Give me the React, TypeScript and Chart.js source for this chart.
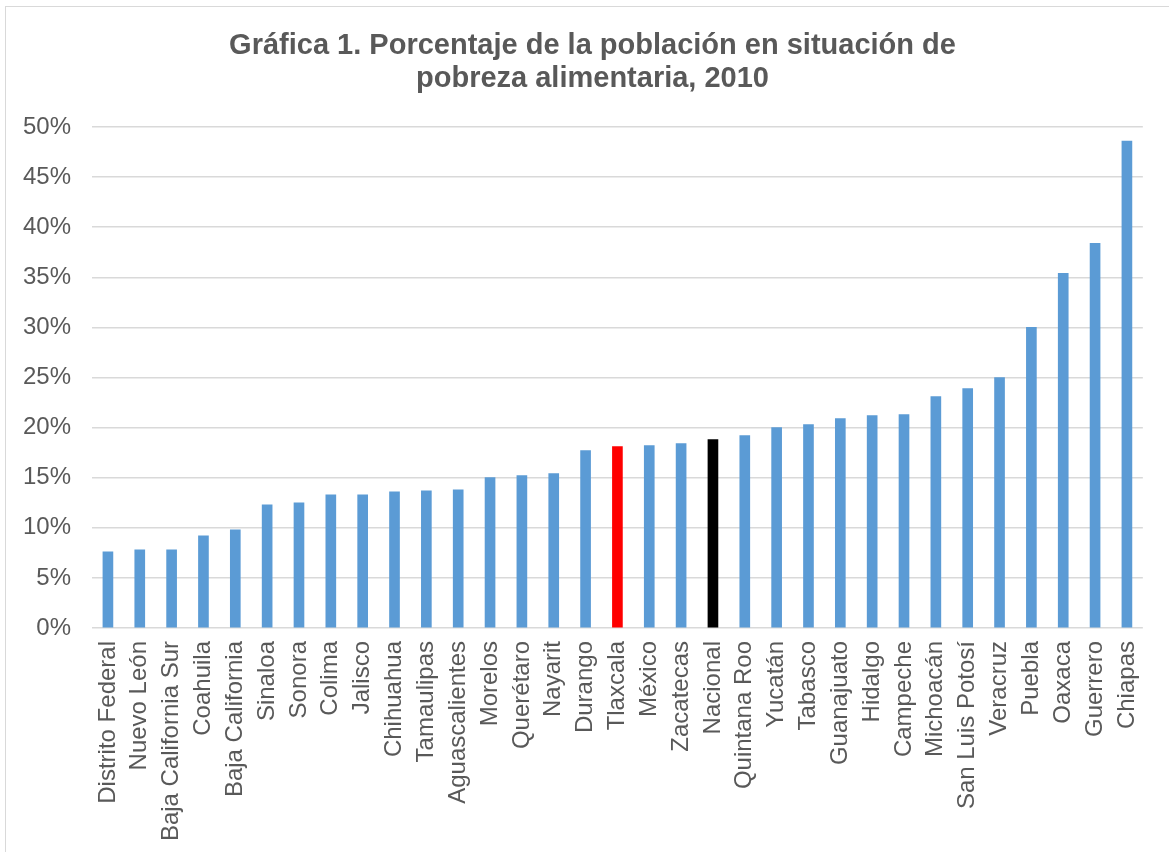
import React, { useEffect, useRef } from "react";
import { Chart, registerables } from "chart.js";

Chart.register(...registerables);

const titleLines = [
  "Gráfica 1. Porcentaje de la población en situación de",
  "pobreza alimentaria, 2010",
];

const categories = [
  "Distrito Federal", "Nuevo León", "Baja California Sur", "Coahuila", "Baja California",
  "Sinaloa", "Sonora", "Colima", "Jalisco", "Chihuahua", "Tamaulipas", "Aguascalientes",
  "Morelos", "Querétaro", "Nayarit", "Durango", "Tlaxcala", "México", "Zacatecas",
  "Nacional", "Quintana Roo", "Yucatán", "Tabasco", "Guanajuato", "Hidalgo", "Campeche",
  "Michoacán", "San Luis Potosí", "Veracruz", "Puebla", "Oaxaca", "Guerrero", "Chiapas",
];

const values = [
  7.6, 7.8, 7.8, 9.2, 9.8,
  12.3, 12.5, 13.3, 13.3, 13.6, 13.7, 13.8,
  15.0, 15.2, 15.4, 17.7, 18.1, 18.2, 18.4,
  18.8, 19.2, 20.0, 20.3, 20.9, 21.2, 21.3,
  23.1, 23.9, 25.0, 30.0, 35.4, 38.4, 48.6,
];

const yTickMin = 0;
const yTickMax = 50;
const yTickStep = 5;

const BASE_COLOR = "#5b9bd5";
const highlightColors: Record<string, string> = {
  Tlaxcala: "#ff0000",
  Nacional: "#000000",
};

const FONT = "'Liberation Sans', Arial, Helvetica, sans-serif";
const TEXT = "#595959";

// shift the title box so its centre matches the reference
const titleShift = {
  id: "titleShift",
  afterLayout(chart: any) {
    const tb = chart.titleBlock;
    if (tb) {
      tb.left = 35;
      tb.right = 1150;
    }
  },
};

export default function App() {
  const canvasRef = useRef<HTMLCanvasElement | null>(null);

  useEffect(() => {
    const canvas = canvasRef.current;
    if (!canvas) return;
    const colors = categories.map((c) => highlightColors[c] || BASE_COLOR);
    const chart = new Chart(canvas, {
      type: "bar",
      data: {
        labels: categories,
        datasets: [
          {
            data: values,
            backgroundColor: colors,
            borderWidth: 0,
            barThickness: 10,
          },
        ],
      },
      plugins: [titleShift],
      options: {
        animation: false,
        responsive: false,
        maintainAspectRatio: false,
        layout: { padding: { left: 0, right: 19, top: 0, bottom: 0 } },
        plugins: {
          legend: { display: false },
          tooltip: { enabled: false },
          title: {
            display: true,
            text: titleLines,
            color: TEXT,
            font: { family: FONT, size: 29, weight: "bold", lineHeight: 1.138 },
            padding: { top: 29, bottom: 32 },
          },
        },
        scales: {
          x: {
            grid: { display: false, drawTicks: false },
            border: { display: false },
            ticks: {
              color: TEXT,
              font: { family: FONT, size: 24 },
              minRotation: 90,
              maxRotation: 90,
              autoSkip: false,
              padding: 13,
            },
            afterFit: (scale: any) => {
              scale.height = 224;
            },
          },
          y: {
            min: yTickMin,
            max: yTickMax,
            grid: { color: "#d9d9d9", lineWidth: 1.5, drawTicks: false },
            border: { display: false },
            ticks: {
              stepSize: yTickStep,
              color: TEXT,
              font: { family: FONT, size: 24 },
              padding: 21,
              callback: (v: any) => `${v}%`,
            },
            afterFit: (scale: any) => {
              scale.width = 92;
            },
          },
        },
      },
    });
    return () => chart.destroy();
  }, []);

  return (
    <div
      style={{
        position: "fixed",
        left: 0,
        top: 0,
        width: 1169,
        height: 852,
        background: "#ffffff",
        overflow: "hidden",
      }}
    >
      <div
        style={{
          position: "absolute",
          left: 5,
          top: 6,
          width: 1300,
          height: 1000,
          borderTop: "1.5px solid #d9d9d9",
          borderLeft: "1.5px solid #d9d9d9",
        }}
      />
      <canvas
        ref={canvasRef}
        width={1169}
        height={852}
        style={{ position: "absolute", left: 0, top: 0, width: 1169, height: 852 }}
      />
    </div>
  );
}
